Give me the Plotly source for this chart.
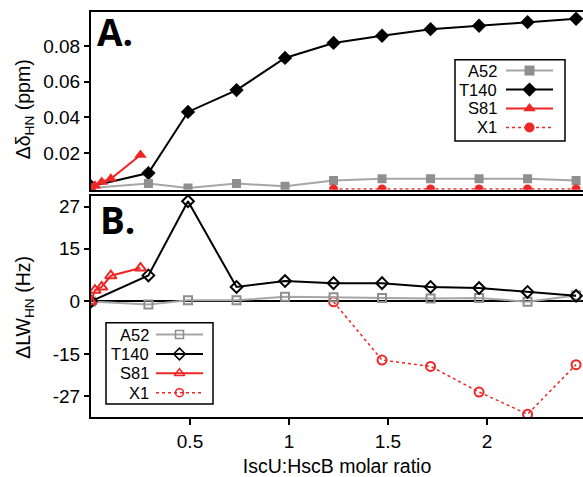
import plotly.graph_objects as go

# ---------------- data ----------------
ratio = [0.0, 0.29, 0.49, 0.735, 0.98, 1.225, 1.47, 1.715, 1.96, 2.205, 2.45]
ratio_s81 = [0.0, 0.02, 0.054, 0.10, 0.25]
ratio_x1 = [1.225, 1.47, 1.715, 1.96, 2.205, 2.45]

# Panel A: chemical shift perturbation (ppm)
a52_shift = [0.0005, 0.003, 0.0005, 0.003, 0.0015, 0.0048, 0.0057, 0.0057, 0.0057, 0.0057, 0.0048]
t140_shift = [0.0015, 0.0089, 0.0431, 0.0553, 0.0733, 0.0817, 0.0857, 0.0894, 0.0913, 0.0933, 0.0952]
s81_shift = [0.0005, 0.0018, 0.0039, 0.0057, 0.019]
x1_shift = [0.0, 0.0, 0.0, 0.0, 0.0, 0.0]

# Panel B: line width change (Hz)
a52_lw = [0.0, -0.9, 0.3, 0.3, 1.3, 1.2, 1.0, 0.8, 1.0, -0.1, 1.7]
t140_lw = [0.0, 7.4, 28.5, 4.1, 5.8, 5.2, 5.2, 4.1, 3.8, 2.7, 1.6]
s81_lw = [0.0, 3.2, 4.1, 7.3, 9.5]
x1_lw = [-0.1, -16.7, -18.5, -25.8, -32.1, -18.0]

names = ["A52", "T140", "S81", "X1"]
x_ticks = [0.5, 1, 1.5, 2]
x_tick_text = ["0.5", "1", "1.5", "2"]
ya_ticks = [0.02, 0.04, 0.06, 0.08]
ya_tick_text = ["0.02", "0.04", "0.06", "0.08"]
yb_ticks = [27, 15, 0, -15, -27]
yb_tick_text = ["27", "15", "0", "-15", "-27"]

# ---------------- styles ----------------
GRAY_L = "#a6a6a6"
GRAY_M = "#8f8f8f"
RED = "#ee2626"
BLACK = "#000000"
FONT = "Liberation Sans, Arial, sans-serif"
TICK_SIZE = 19
TITLE_SIZE = 19.5

W, H = 583, 477
L, R, T, B = 91, 0, 12, 57
PW, PH = W - L - R, H - T - B


def px_x(px):
    return (px - L) / PW


def px_y(py):
    return (H - B - py) / PH


fig = go.Figure()

# ---- Panel A (filled markers) ----
fig.add_trace(go.Scatter(x=ratio, y=t140_shift, mode="lines+markers", xaxis="x", yaxis="y",
                         line=dict(color=BLACK, width=2),
                         marker=dict(symbol="diamond", size=11, color=BLACK)))
fig.add_trace(go.Scatter(x=ratio, y=a52_shift, mode="lines+markers", xaxis="x", yaxis="y",
                         line=dict(color=GRAY_L, width=2),
                         marker=dict(symbol="square", size=9, color=GRAY_M)))
fig.add_trace(go.Scatter(x=ratio_x1, y=x1_shift, mode="lines+markers", xaxis="x", yaxis="y",
                         line=dict(color=RED, width=1.5, dash="dot"),
                         marker=dict(symbol="circle", size=9, color=RED)))
fig.add_trace(go.Scatter(x=ratio_s81, y=s81_shift, mode="lines+markers", xaxis="x", yaxis="y",
                         line=dict(color=RED, width=2),
                         marker=dict(symbol="triangle-up", size=11, color=RED)))

# ---- Panel B (open markers) ----
fig.add_trace(go.Scatter(x=ratio_x1, y=x1_lw, mode="lines+markers", xaxis="x2", yaxis="y2",
                         line=dict(color=RED, width=1.5, dash="dot"),
                         marker=dict(symbol="circle-open", size=9, color=RED, line=dict(width=2))))
fig.add_trace(go.Scatter(x=ratio, y=a52_lw, mode="lines+markers", xaxis="x2", yaxis="y2",
                         line=dict(color=GRAY_L, width=2),
                         marker=dict(symbol="square-open", size=8, color=GRAY_M, line=dict(width=2))))
fig.add_trace(go.Scatter(x=ratio, y=t140_lw, mode="lines+markers", xaxis="x2", yaxis="y2",
                         line=dict(color=BLACK, width=2),
                         marker=dict(symbol="diamond-open", size=9, color=BLACK, line=dict(width=2))))
fig.add_trace(go.Scatter(x=ratio_s81, y=s81_lw, mode="lines+markers", xaxis="x2", yaxis="y2",
                         line=dict(color=RED, width=2),
                         marker=dict(symbol="triangle-up-open", size=10, color=RED, line=dict(width=2))))

# ---- manual legends (text left, symbol right), drawn on a pixel-mapped axis ----
leg_styles_a = [
    dict(line=dict(color=GRAY_L, width=2), marker=dict(symbol="square", size=10, color=GRAY_M)),
    dict(line=dict(color=BLACK, width=2), marker=dict(symbol="diamond", size=11, color=BLACK)),
    dict(line=dict(color=RED, width=2), marker=dict(symbol="triangle-up", size=11, color=RED)),
    dict(line=dict(color=RED, width=1.5, dash="dot"), marker=dict(symbol="circle", size=10, color=RED)),
]
leg_styles_b = [
    dict(line=dict(color=GRAY_L, width=2), marker=dict(symbol="square-open", size=8, color=GRAY_M, line=dict(width=1.5))),
    dict(line=dict(color=BLACK, width=2), marker=dict(symbol="diamond-open", size=9, color=BLACK, line=dict(width=1.5))),
    dict(line=dict(color=RED, width=2), marker=dict(symbol="triangle-up-open", size=9, color=RED, line=dict(width=1.5))),
    dict(line=dict(color=RED, width=1.5, dash="dot"), marker=dict(symbol="circle-open", size=8, color=RED, line=dict(width=1.5))),
]

legends = [
    dict(box=(455, 60, 565, 142), tx=499, lx0=506, lx1=553, y0=71, dy=19.1, styles=leg_styles_a),
    dict(box=(106, 325, 213, 407), tx=151, lx0=156, lx1=203, y0=337, dy=19.5, styles=leg_styles_b),
]

shapes = []
annotations = []
for lg in legends:
    bx0, by0, bx1, by1 = lg["box"]
    shapes.append(dict(type="rect", xref="x3", yref="y3", x0=bx0, x1=bx1, y0=by0, y1=by1,
                       line=dict(color=BLACK, width=1.5), fillcolor="white", layer="below"))
    for i, (nm, st) in enumerate(zip(names, lg["styles"])):
        yy = lg["y0"] + i * lg["dy"]
        annotations.append(dict(text=nm, xref="x3", yref="y3", x=lg["tx"], y=yy,
                                xanchor="right", yanchor="middle", showarrow=False,
                                font=dict(family=FONT, size=16.5, color=BLACK)))
        xm = (lg["lx0"] + lg["lx1"]) / 2
        fig.add_trace(go.Scatter(x=[lg["lx0"], xm, lg["lx1"]], y=[yy, yy, yy], mode="lines",
                                 xaxis="x3", yaxis="y3", line=st["line"], hoverinfo="skip"))
        fig.add_trace(go.Scatter(x=[xm], y=[yy], mode="markers", xaxis="x3", yaxis="y3",
                                 marker=st["marker"], hoverinfo="skip"))

# panel labels
annotations.append(dict(text="<b>A.</b>", xref="paper", yref="paper", x=px_x(95), y=px_y(32),
                        xanchor="left", yanchor="middle", showarrow=False,
                        font=dict(family="Open Sans, sans-serif", size=37, color=BLACK)))
annotations.append(dict(text="<b>B.</b>", xref="paper", yref="paper", x=px_x(98), y=px_y(221),
                        xanchor="left", yanchor="middle", showarrow=False,
                        font=dict(family="Open Sans, sans-serif", size=37, color=BLACK)))
# axis titles
annotations.append(dict(text="Δδ<sub>HN</sub> (ppm)", xref="paper", yref="paper", x=px_x(24), y=px_y(110),
                        xanchor="center", yanchor="middle", textangle=-90, showarrow=False,
                        font=dict(family=FONT, size=TITLE_SIZE, color=BLACK)))
annotations.append(dict(text="ΔLW<sub>HN</sub> (Hz)", xref="paper", yref="paper", x=px_x(25), y=px_y(310),
                        xanchor="center", yanchor="middle", textangle=-90, showarrow=False,
                        font=dict(family=FONT, size=TITLE_SIZE, color=BLACK)))

domA = [px_y(191), 1.0]
domB = [0.0, px_y(197)]
xr = [0, 2.485]

fig.update_layout(
    width=W, height=H,
    margin=dict(l=L, r=R, t=T, b=B),
    paper_bgcolor="white", plot_bgcolor="rgba(0,0,0,0)",
    showlegend=False,
    font=dict(family=FONT, size=TICK_SIZE, color=BLACK),
    xaxis=dict(domain=[0, 1], range=xr, anchor="y", showline=True, mirror=True,
               linecolor=BLACK, linewidth=2, ticks="", showticklabels=False,
               showgrid=False, zeroline=False),
    yaxis=dict(domain=domA, range=[-0.0004, 0.099], anchor="x", showline=True, linecolor=BLACK,
               linewidth=2, ticks="outside", ticklen=5, tickwidth=2, tickcolor=BLACK,
               tickvals=ya_ticks, ticktext=ya_tick_text, showgrid=False, zeroline=False,
               tickfont=dict(size=TICK_SIZE)),
    xaxis2=dict(domain=[0, 1], range=xr, anchor="y2", showline=True, mirror=True,
                linecolor=BLACK, linewidth=2, ticks="outside", ticklen=6, tickwidth=2,
                tickcolor=BLACK, tickvals=x_ticks, ticktext=x_tick_text, showgrid=False,
                zeroline=False, tickfont=dict(size=TICK_SIZE),
                title=dict(text="IscU:HscB molar ratio", font=dict(size=TITLE_SIZE), standoff=12)),
    yaxis2=dict(domain=domB, range=[-32.9, 30.1], anchor="x2", showline=True, linecolor=BLACK,
                linewidth=2, ticks="outside", ticklen=5, tickwidth=2, tickcolor=BLACK,
                tickvals=yb_ticks, ticktext=yb_tick_text, showgrid=False, zeroline=True,
                zerolinecolor=BLACK, zerolinewidth=2, tickfont=dict(size=TICK_SIZE)),
    xaxis3=dict(domain=[0, 1], range=[L, W - R], anchor="y3", showline=False, showgrid=False,
                zeroline=False, showticklabels=False, ticks="", fixedrange=True),
    yaxis3=dict(domain=[0, 1], range=[H - B, T], anchor="x3", showline=False, showgrid=False,
                zeroline=False, showticklabels=False, ticks="", fixedrange=True),
    shapes=shapes,
    annotations=annotations,
)

fig.write_html("out.html")
